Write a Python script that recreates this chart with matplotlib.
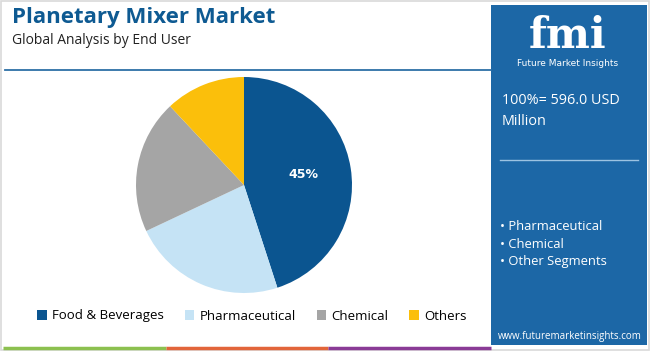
import matplotlib.pyplot as plt
from matplotlib.patches import Rectangle

# data
labels = ["Food & Beverages", "Pharmaceutical", "Chemical", "Others"]
shares = [45, 23, 20, 12]
colors = ["#0b5590", "#c5e3f5", "#a5a5a5", "#fbbf0b"]
total_text = "100%= 596.0 USD\nMillion"
segments = ["Pharmaceutical", "Chemical", "Other Segments"]

W, H = 650, 351
fig = plt.figure(figsize=(6.5, 3.51), dpi=100)
fig.patch.set_facecolor("white")

def fx(x):
    return x / W

def fy(y):
    return 1 - y / H

# outer frame
fig.patches.append(Rectangle((0.002, 0.003), 0.996, 0.994, transform=fig.transFigure,
                             fill=False, edgecolor="#d9d9d9", linewidth=1.2))

# title block
fig.text(fx(12), fy(17), "Planetary Mixer Market", fontsize=16, fontweight="bold",
         color="#0e5a92", va="center", family="Open Sans")
fig.text(fx(12), fy(40), "Global Analysis by End User", fontsize=10,
         color="#222222", va="center", family="Open Sans")
fig.add_artist(plt.Line2D([fx(5), fx(491)], [fy(70), fy(70)], transform=fig.transFigure,
                          color="#2d6fa6", linewidth=1.3))

# bottom colour strip
for x0, x1, c in [(3, 166, "#8cc04f"), (166, 328, "#e2653a"), (328, 491, "#8a3b96")]:
    fig.add_artist(plt.Line2D([fx(x0), fx(x1)], [fy(348), fy(348)], transform=fig.transFigure,
                              color=c, linewidth=2.5, solid_capstyle="butt"))

# right panel
fig.patches.append(Rectangle((fx(491), fy(345)), fx(647) - fx(491), fy(5) - fy(345),
                             transform=fig.transFigure, facecolor="#1c67a6", edgecolor="none"))
fig.text(fx(568), fy(36), "fmi", fontsize=30, fontweight="bold", color="white",
         ha="center", va="center", family="DejaVu Serif")
fig.text(fx(568), fy(63), "Future Market Insights", fontsize=6.5, color="white",
         ha="center", va="center")
fig.text(fx(502), fy(111), total_text, fontsize=10.4, color="white", va="center",
         linespacing=1.6, family="Open Sans")
fig.add_artist(plt.Line2D([fx(500), fx(638)], [fy(160), fy(160)], transform=fig.transFigure,
                          color="#9cc3e2", linewidth=1))
for i, s in enumerate(segments):
    fig.text(fx(500), fy(227 + i * 17.5), "\u2022 " + s, fontsize=9.4, color="white",
             va="center", family="Open Sans")
fig.text(fx(570), fy(336), "www.futuremarketinsights.com", fontsize=7, color="white",
         ha="center", va="center", family="Open Sans")

# pie
r = 108
ax = fig.add_axes([fx(244 - r), fy(185 + r), fx(2 * r), fy(0) - fy(2 * r)])
wedges, _ = ax.pie(shares, colors=colors, startangle=90, counterclock=False,
                   wedgeprops=dict(linewidth=0))
ax.set_xlim(-1, 1)
ax.set_ylim(-1, 1)
ax.text(0.55, 0.1, f"{shares[0]}%", color="white", fontsize=9, fontweight="bold",
        ha="center", va="center")

# legend
fig.legend(wedges, labels, loc="center", bbox_to_anchor=(fx(252), fy(316)), ncol=4,
           frameon=False, handlelength=0.7, handleheight=0.7,
           columnspacing=1.6, handletextpad=0.4, prop={"family": "Open Sans", "size": 9.5})

fig.savefig("out.png", dpi=100)
